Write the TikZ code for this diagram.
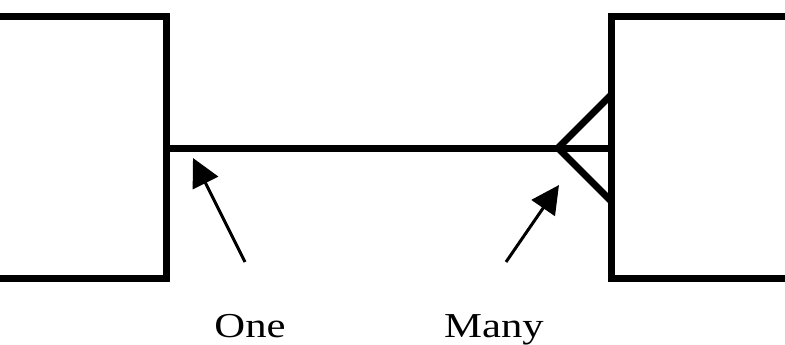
\documentclass[tikz,border=0pt]{standalone}
\usepackage{fontspec}
\setmainfont{Liberation Serif}
\usetikzlibrary{arrows.meta}
\begin{document}
\begin{tikzpicture}[x=1pt,y=-1pt,
  entity/.style={line width=7pt,line join=miter,line cap=butt},
  relline/.style={line width=7pt,line cap=butt},
  pointer/.style={line width=3pt,-{Triangle[length=28pt,width=28pt]}},
  lbl/.style={anchor=base,inner sep=0pt,font=\fontsize{35}{40}\selectfont}]
\useasboundingbox (0,0) rectangle (785,345);
% coordinates
\coordinate (Lt) at (0,16.5);
\coordinate (Ltr) at (166.5,16.5);
\coordinate (Lbr) at (166.5,278.5);
\coordinate (Lb) at (0,278.5);
\coordinate (Rt) at (785,17);
\coordinate (Rtl) at (611,17);
\coordinate (Rbl) at (611,278.5);
\coordinate (Rb) at (785,278.5);
\coordinate (L) at (166.5,148);
\coordinate (R) at (611,148);
\coordinate (apex) at (558,148);
\coordinate (fu) at (611,95);
\coordinate (fl) at (611,201);
\coordinate (t1) at (245,262);
\coordinate (h1) at (193,158);
\coordinate (t2) at (506,262);
\coordinate (h2) at (559,185);
% entities
\draw[entity] (Lt) -- (Ltr) -- (Lbr) -- (Lb);
\draw[entity] (Rt) -- (Rtl) -- (Rbl) -- (Rb);
% relationship
\draw[relline] (L) -- (R);
\draw[relline,line join=miter] (fu) -- (apex) -- (fl);
% pointers
\draw[pointer] (t1) -- (h1);
\draw[pointer] (t2) -- (h2);
% labels
\node[lbl] (one) at (250,337) {\scalebox{1.22}[1]{One}};
\node[lbl] (many) at (494,337) {\scalebox{1.22}[1]{Many}};
\end{tikzpicture}
\end{document}
